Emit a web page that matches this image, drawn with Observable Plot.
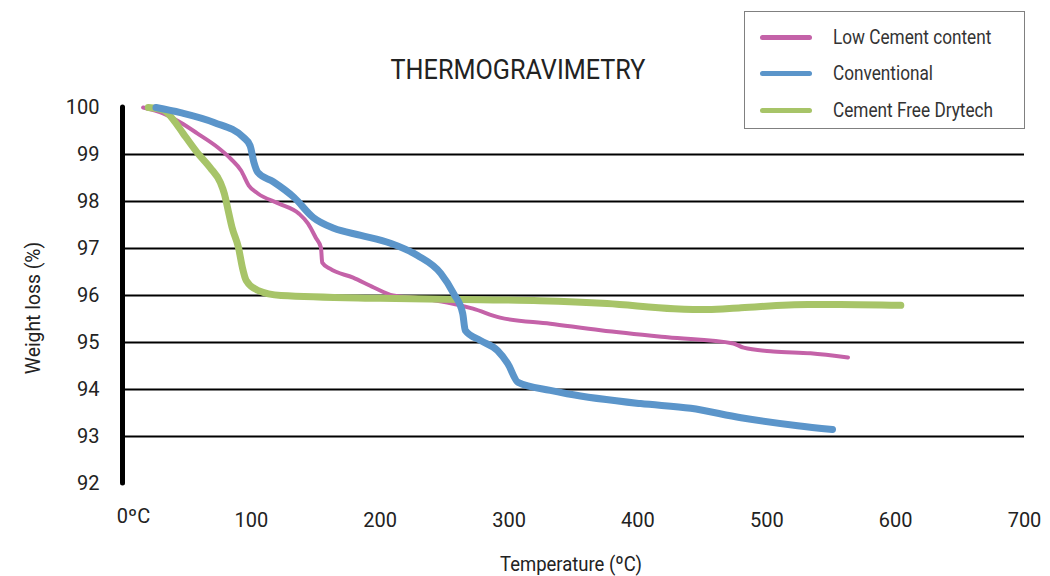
<!DOCTYPE html>
<html>
<head>
<meta charset="utf-8">
<script src="https://cdn.jsdelivr.net/npm/d3@7"></script>
<script src="https://cdn.jsdelivr.net/npm/@observablehq/plot@0.6"></script>
<style>
  html, body { margin: 0; padding: 0; background: #fff; }
  #wrap { position: relative; width: 1050px; height: 576px; overflow: hidden;
          font-family: "Roboto", "Liberation Sans", sans-serif; color: #222; }
  #title { position: absolute; left: 518px; top: 53px; font-size: 28px; white-space: nowrap;
           transform: translateX(-50%) scaleX(0.9); transform-origin: center; }
  #legend { position: absolute; left: 744px; top: 11px; width: 279px; height: 116px; border: 1px solid #808080; background: #fff; }
  .item { position: absolute; left: 0; height: 30px; display: flex; align-items: center; }
  .sw { margin-left: 15px; width: 52px; height: 5px; border-radius: 3px; flex: none; }
  .lab { margin-left: 21px; font-size: 20px; color: #333; white-space: nowrap; transform: scaleX(0.86); transform-origin: left center; }
  #xlab { position: absolute; left: 571px; top: 552px; font-size: 21px; white-space: nowrap;
          transform: translateX(-50%) scaleX(0.88); }
  #ylab { position: absolute; left: 33px; top: 308px; transform: translate(-50%, -50%) rotate(-90deg) scaleX(0.92); font-size: 21px; white-space: nowrap; }
</style>
</head>
<body>
<div id="wrap">
  <div id="chart"></div>
  <div id="title">THERMOGRAVIMETRY</div>
  <div id="legend"></div>
  <div id="xlab">Temperature (ºC)</div>
  <div id="ylab">Weight loss (%)</div>
</div>
<script>
// Series names and colours
const seriesNames = ["Low Cement content", "Conventional", "Cement Free Drytech"];
const seriesColors = ["#C462A8", "#5B95CA", "#A7C468"];
const seriesWidths = [4, 7, 7];

// Temperature (ºC) and weight (%) per series
const lowCementT = [16, 32, 45, 58, 74, 84, 92, 98, 105, 121, 137, 144, 150, 154, 155, 161, 179, 195, 210, 231, 252, 272, 293, 332, 371, 423, 474, 482, 505, 534, 563];
const lowCementW = [100.0, 99.87, 99.68, 99.45, 99.15, 98.91, 98.66, 98.34, 98.17, 97.96, 97.74, 97.53, 97.23, 97.02, 96.70, 96.57, 96.38, 96.17, 96.0, 95.94, 95.85, 95.72, 95.53, 95.40, 95.26, 95.11, 94.98, 94.89, 94.81, 94.77, 94.68];

const conventionalT = [26, 45, 71, 94, 99, 102, 105, 117, 133, 148, 164, 185, 208, 229, 247, 257, 264, 266, 278, 291, 299, 307, 332, 345, 402, 441, 480, 524, 551];
const conventionalW = [100.0, 99.89, 99.68, 99.36, 99.19, 98.83, 98.62, 98.42, 98.09, 97.66, 97.43, 97.28, 97.11, 96.85, 96.47, 96.04, 95.62, 95.26, 95.04, 94.83, 94.55, 94.15, 93.98, 93.91, 93.70, 93.60, 93.40, 93.23, 93.15];

const cementFreeT = [20, 32, 40, 47, 58, 68, 76, 79, 82, 85, 90, 93, 96, 105, 123, 200, 278, 324, 376, 428, 454, 480, 532, 557, 604];
const cementFreeW = [100.0, 99.94, 99.72, 99.45, 99.04, 98.72, 98.40, 98.17, 97.81, 97.45, 97.02, 96.60, 96.32, 96.11, 96.0, 95.94, 95.91, 95.89, 95.83, 95.72, 95.70, 95.74, 95.81, 95.81, 95.79];

// Axis ticks
const xTicks = [100, 200, 300, 400, 500, 600, 700];
const xZeroLabel = "0ºC";
const yTicks = [92, 93, 94, 95, 96, 97, 98, 99, 100];
const gridValues = [93, 94, 95, 96, 97, 98, 99];

const toRows = (name, T, W) => T.map((t, i) => ({series: name, t, w: W[i]}));
const rows = [
  ...toRows(seriesNames[0], lowCementT, lowCementW),
  ...toRows(seriesNames[1], conventionalT, conventionalW),
  ...toRows(seriesNames[2], cementFreeT, cementFreeW)
];

const lineMark = (k) => Plot.line(rows.filter(d => d.series === seriesNames[k]), {
  x: "t", y: "w", stroke: seriesColors[k], strokeWidth: seriesWidths[k],
  curve: "monotone-x", strokeLinejoin: "round", strokeLinecap: "round"
});

const chart = Plot.plot({
  width: 1050,
  height: 576,
  marginLeft: 122,
  marginRight: 26,
  marginTop: 107,
  marginBottom: 93,
  style: {fontFamily: '"Roboto", "Liberation Sans", sans-serif', color: "#222", background: "white"},
  x: {domain: [0, 700]},
  y: {domain: [92, 100]},
  marks: [
    Plot.ruleY(gridValues, {x1: 0, x2: 700, stroke: "black", strokeWidth: 2}),
    Plot.axisY({ticks: yTicks, tickSize: 0, tickPadding: 23, fontSize: 20, label: null}),
    Plot.axisX({ticks: xTicks, tickSize: 0, tickPadding: 29, fontSize: 20, label: null}),
    Plot.text([0], {x: d => d, frameAnchor: "bottom", dy: 39, dx: 11, text: () => xZeroLabel, fontSize: 20}),
    lineMark(0),
    lineMark(2),
    lineMark(1),
    Plot.ruleX([0], {y1: 92, y2: 100, stroke: "black", strokeWidth: 5, strokeLinecap: "round"})
  ]
});
document.getElementById("chart").appendChild(chart);

// Legend
const legend = document.getElementById("legend");
const rowTops = [10, 46, 83];
seriesNames.forEach((name, i) => {
  const item = document.createElement("div");
  item.className = "item";
  item.style.top = rowTops[i] + "px";
  item.innerHTML = `<div class="sw" style="background:${seriesColors[i]}"></div><div class="lab">${name}</div>`;
  legend.appendChild(item);
});
</script>
</body>
</html>
